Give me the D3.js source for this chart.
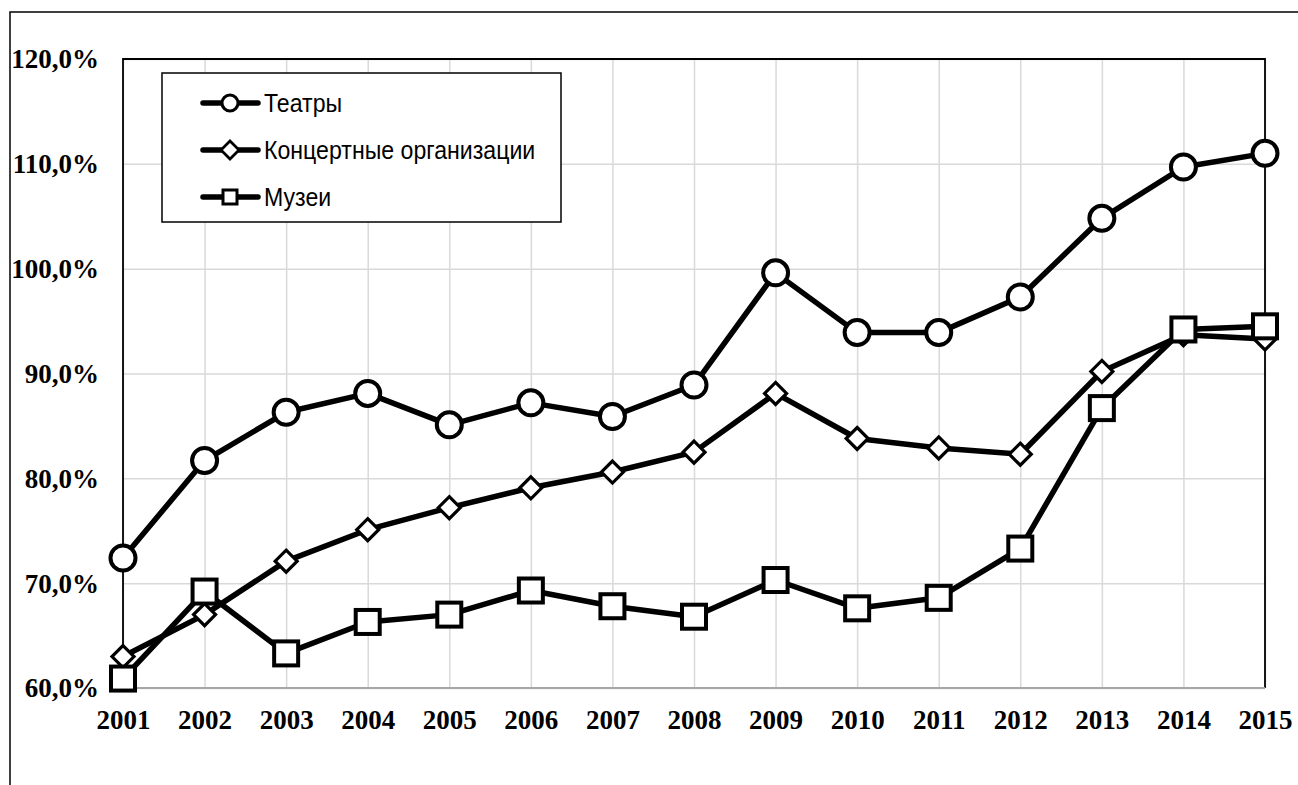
<!DOCTYPE html>
<html><head><meta charset="utf-8">
<script src="https://cdn.jsdelivr.net/npm/d3@7"></script>
<style>body{margin:0;background:#fff}svg{display:block}</style>
</head><body>
<svg id="c" width="1298" height="785"></svg>
<script>
const years = ["2001","2002","2003","2004","2005","2006","2007","2008","2009","2010","2011","2012","2013","2014","2015"];
const theatres = [72.4,81.7,86.3,88.1,85.1,87.2,85.9,88.9,99.6,93.9,93.9,97.3,104.8,109.7,111.0];
const concerts = [63.0,67.0,72.1,75.1,77.2,79.1,80.6,82.5,88.1,83.8,82.9,82.3,90.2,93.7,93.3];
const museums  = [60.9,69.2,63.3,66.3,67.0,69.3,67.8,66.8,70.3,67.6,68.6,73.3,86.7,94.2,94.5];
const yTicks = [60,70,80,90,100,110,120];
const seriesNames = ["Театры","Концертные организации","Музеи"];

const svg = d3.select("#c");
const L=123, R=1265, T=59, B=688;
const x = d3.scalePoint().domain(years).range([L,R]);
const y = d3.scaleLinear().domain([60,120]).range([B,T]);

// outer frame
svg.append("rect").attr("x",10).attr("y",12).attr("width",1400).attr("height",900)
  .attr("fill","none").attr("stroke","#000").attr("stroke-width",1.5);

// grid
const gx = svg.append("g").attr("transform",`translate(0,${B})`)
  .call(d3.axisBottom(x).tickSize(-(B-T)).tickFormat(""));
gx.select(".domain").remove();
gx.selectAll("line").attr("stroke","#d9d9d9").attr("stroke-width",1.5);
const gy = svg.append("g").attr("transform",`translate(${L},0)`)
  .call(d3.axisLeft(y).tickValues(yTicks).tickSize(-(R-L)).tickFormat(""));
gy.select(".domain").remove();
gy.selectAll("line").attr("stroke","#d9d9d9").attr("stroke-width",1.5);

// plot border
svg.append("path").attr("d",`M${L},${B}V${T}H${R}V${B}`).attr("fill","none").attr("stroke","#000").attr("stroke-width",1.8);
svg.append("line").attr("x1",L).attr("x2",R).attr("y1",B).attr("y2",B).attr("stroke","#a6a6a6").attr("stroke-width",2);

// axis labels
const yl = svg.append("g").attr("transform",`translate(99,0)`)
  .call(d3.axisLeft(y).tickValues(yTicks).tickSize(0).tickPadding(0)
    .tickFormat(d=>d3.format(".1f")(d).replace(".",",")+"%"));
yl.select(".domain").remove();
yl.selectAll("text").attr("font-family","'Liberation Serif','Times New Roman',serif")
  .attr("font-weight","bold").attr("font-size",27).attr("fill","#000").attr("dy","0.33em");

const xl = svg.append("g").attr("transform",`translate(0,${B})`)
  .call(d3.axisBottom(x).tickSize(0).tickPadding(0));
xl.select(".domain").remove();
xl.selectAll("text").attr("font-family","'Liberation Serif','Times New Roman',serif")
  .attr("font-weight","bold").attr("font-size",27).attr("fill","#000").attr("dy",null).attr("y",41);

// series
const line = d3.line().x((d,i)=>x(years[i])).y(d=>y(d));
const data = [theatres, concerts, museums];
data.forEach(arr=>{
  svg.append("path").attr("d",line(arr)).attr("fill","none").attr("stroke","#000")
    .attr("stroke-width",5.5).attr("stroke-linejoin","round");
});
// markers
function drawMarker(g, k, cx, cy, big){
  if(k===0){
    g.append("circle").attr("cx",cx).attr("cy",cy).attr("r",big?12.5:8)
      .attr("fill","#fff").attr("stroke","#000").attr("stroke-width",big?4:3);
  } else if(k===1){
    const h = big?11:9;
    g.append("path").attr("d",`M${cx},${cy-h}L${cx+h},${cy}L${cx},${cy+h}L${cx-h},${cy}Z`)
      .attr("fill","#fff").attr("stroke","#000").attr("stroke-width",big?3.2:2.8).attr("stroke-linejoin","miter");
  } else {
    const s = big?12:7;
    g.append("rect").attr("x",cx-s).attr("y",cy-s).attr("width",2*s).attr("height",2*s)
      .attr("fill","#fff").attr("stroke","#000").attr("stroke-width",big?4:3);
  }
}
data.forEach((arr,k)=>{
  const g = svg.append("g");
  arr.forEach((v,i)=>drawMarker(g,k,x(years[i]),y(v),true));
});

// legend
svg.append("rect").attr("x",162).attr("y",73).attr("width",399).attr("height",149)
  .attr("fill","#fff").attr("stroke","#000").attr("stroke-width",1.5);
const ly = [103,150,197];
seriesNames.forEach((n,k)=>{
  svg.append("line").attr("x1",203).attr("x2",258).attr("y1",ly[k]).attr("y2",ly[k])
    .attr("stroke","#000").attr("stroke-width",5.5).attr("stroke-linecap","round");
  drawMarker(svg,k,230,ly[k],false);
  svg.append("text").attr("transform",`translate(264,${ly[k]}) scale(0.925,1)`).attr("dy","0.36em")
    .attr("font-family","'Liberation Sans',Arial,sans-serif")
    .attr("font-size",25).attr("fill","#000").text(n);
});
</script>
</body></html>
